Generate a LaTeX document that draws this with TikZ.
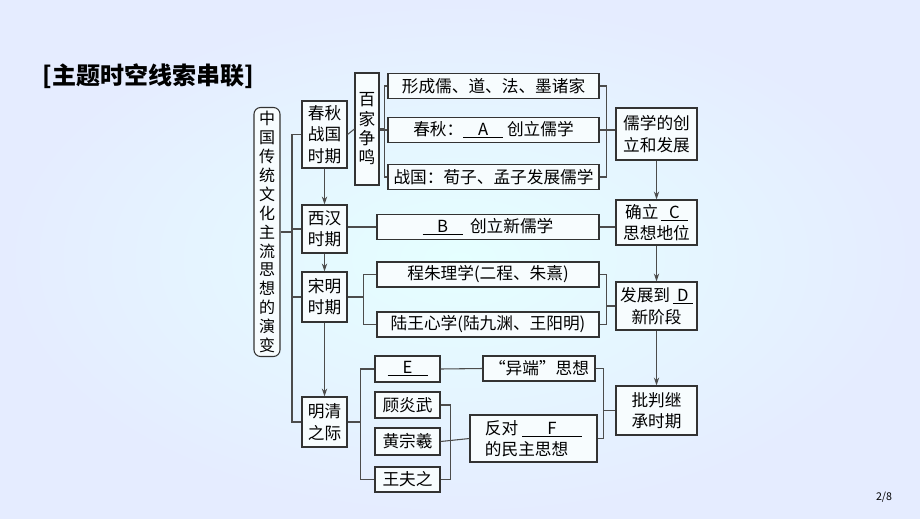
\documentclass[tikz,border=0pt]{standalone}
\usepackage{fontspec}
\setmainfont{Noto Sans CJK SC}
\usetikzlibrary{positioning,calc,arrows.meta}
\tikzset{
  box/.style={draw=black!80, thick, fill=white!60!cyan!8, align=center, inner sep=1pt,
    font=\fontsize{12.5}{16}\selectfont},
  link/.style={draw=black!70, thick},
  flow/.style={link, -{Stealth[length=6pt,width=4pt]}}
}
\newcommand{\blank}[1]{\underline{\makebox[2.4em]{#1}}}
\begin{document}
\begin{tikzpicture}[x=0.75pt,y=-0.75pt]
    % background
    \shade[inner color=white!90!cyan, outer color=cyan!25!blue!10] (0,0) rectangle (920,518);
    \useasboundingbox (0,0) rectangle (920,518);
    \node[font=\fontsize{18}{20}\selectfont\bfseries, anchor=west] (title) at (38,76) {[主题时空线索串联]};
    \node[font=\fontsize{8}{9}\selectfont] (page) at (884,497) {2/8};

    % left column
    \node[box, rounded corners=5pt, minimum width=26*0.75pt, minimum height=249*0.75pt,
      font=\fontsize{12}{14.2}\selectfont] (main) at (267,232)
      {中\\国\\传\\统\\文\\化\\主\\流\\思\\想\\的\\演\\变};
    \node[box, minimum width=45*0.75pt, minimum height=67*0.75pt] (cq) at (324.5,134.5) {春秋\\战国\\时期};
    \node[box, minimum width=45*0.75pt, minimum height=48*0.75pt] (xh) at (324.5,229) {西汉\\时期};
    \node[box, minimum width=45*0.75pt, minimum height=50*0.75pt] (sm) at (324.5,297) {宋明\\时期};
    \node[box, minimum width=45*0.75pt, minimum height=50*0.75pt] (mq) at (324.5,422) {明清\\之际};

    % middle column
    \node[box, minimum width=24*0.75pt, minimum height=112*0.75pt, font=\fontsize{12.5}{14.5}\selectfont] (bj) at (367,129) {百\\家\\争\\鸣};
    \node[box, minimum width=211*0.75pt, minimum height=25*0.75pt] (xc) at (493.5,86) {形成儒、道、法、墨诸家};
    \node[box, minimum width=211*0.75pt, minimum height=25*0.75pt] (cqa) at (493.5,130) {春秋：\blank{A}\ 创立儒学};
    \node[box, minimum width=211*0.75pt, minimum height=25*0.75pt] (zg) at (493.5,177) {战国：荀子、孟子发展儒学};
    \node[box, minimum width=222*0.75pt, minimum height=25*0.75pt] (xb) at (488,227) {\blank{B}\ \ 创立新儒学};
    \node[box, minimum width=222*0.75pt, minimum height=25*0.75pt] (cz) at (488,274.5) {程朱理学(二程、朱熹)};
    \node[box, minimum width=222*0.75pt, minimum height=25*0.75pt] (lw) at (488,324.5) {陆王心学(陆九渊、王阳明)};
    \node[box, minimum width=65*0.75pt, minimum height=26*0.75pt] (e) at (407.5,369) {\blank{E}};
    \node[box, minimum width=65*0.75pt, minimum height=26*0.75pt] (gy) at (407.5,405) {顾炎武};
    \node[box, minimum width=65*0.75pt, minimum height=27*0.75pt] (hz) at (407.5,441.5) {黄宗羲};
    \node[box, minimum width=65*0.75pt, minimum height=25*0.75pt] (wf) at (407.5,479.5) {王夫之};
    \node[box, minimum width=112*0.75pt, minimum height=25*0.75pt] (yd) at (539,368.5) {“异端”思想};
    \node[box, minimum width=127*0.75pt, minimum height=47*0.75pt, align=left] (fd) at (533.5,438.5) {反对\ \underline{\makebox[3.6em]{F}}\\的民主思想};

    % right column
    \node[box, minimum width=81*0.75pt, minimum height=52*0.75pt] (rx) at (656.5,134) {儒学的创\\立和发展};
    \node[box, minimum width=81*0.75pt, minimum height=45*0.75pt] (ql) at (656.5,222.5) {确立\,\underline{\makebox[1.6em]{C}}\\思想地位};
    \node[box, minimum width=81*0.75pt, minimum height=48*0.75pt] (fz) at (656.5,306) {发展到\,\underline{\makebox[1.2em]{D}}\\新阶段};
    \node[box, minimum width=81*0.75pt, minimum height=49*0.75pt] (pp) at (656.5,410.5) {批判继\\承时期};

    % connectors
    \coordinate (sp) at (292,232);
    \draw[link] (main.east) -- (sp);
    \draw[link] (cq.west) -| (sp) |- (mq.west);
    \draw[link] (xh.west) -- (sp |- xh.west);
    \draw[link] (sm.west) -- (sp |- sm.west);
    \draw[flow] (cq.south) -- (xh.north);
    \draw[flow] (xh.south) -- (sm.north);
    \draw[flow] (sm.south) -- (mq.north);
    \draw[link] (cq.east) -- (bj.west);
    \draw[link] (bj.east) -- ++(5,0) coordinate (b1) |- (xc.west);
    \draw[link] (b1) |- (zg.west);
    \draw[link] (bj.east |- cqa.west) -- (cqa.west);
    \draw[link] (xc.east) -- ++(7,0) coordinate (r1) |- (zg.east);
    \draw[link] (cqa.east) -- (rx.west |- cqa.east);
    \draw[link] (xh.east |- xb.west) -- (xb.west);
    \draw[link] (xb.east) -- (ql.west |- xb.east);
    \draw[link] (sm.east) -- ++(16,0) coordinate (s1) |- (cz.west);
    \draw[link] (s1) |- (lw.west);
    \draw[link] (cz.east) -- ++(7,0) coordinate (r2) |- (lw.east);
    \draw[link] (r2 |- fz.west) -- (fz.west);
    \draw[flow] (rx.south) -- (ql.north);
    \draw[flow] (ql.south) -- (fz.north);
    \draw[flow] (fz.south) -- (pp.north);
    \draw[link] (mq.east) -- ++(13,0) coordinate (m1) |- (e.west);
    \draw[link] (m1) |- (wf.west);
    \draw[link] (e.east) -- (yd.west);
    \draw[link] (gy.east) -- ++(10,0) coordinate (g1) |- (wf.east);
    \draw[link] (hz.east) -- (fd.west);
    \draw[link] (yd.east) -- ++(8,0) coordinate (y1) |- (fd.east);
    \draw[link] (y1 |- pp.west) -- (pp.west);
\end{tikzpicture}
\end{document}
